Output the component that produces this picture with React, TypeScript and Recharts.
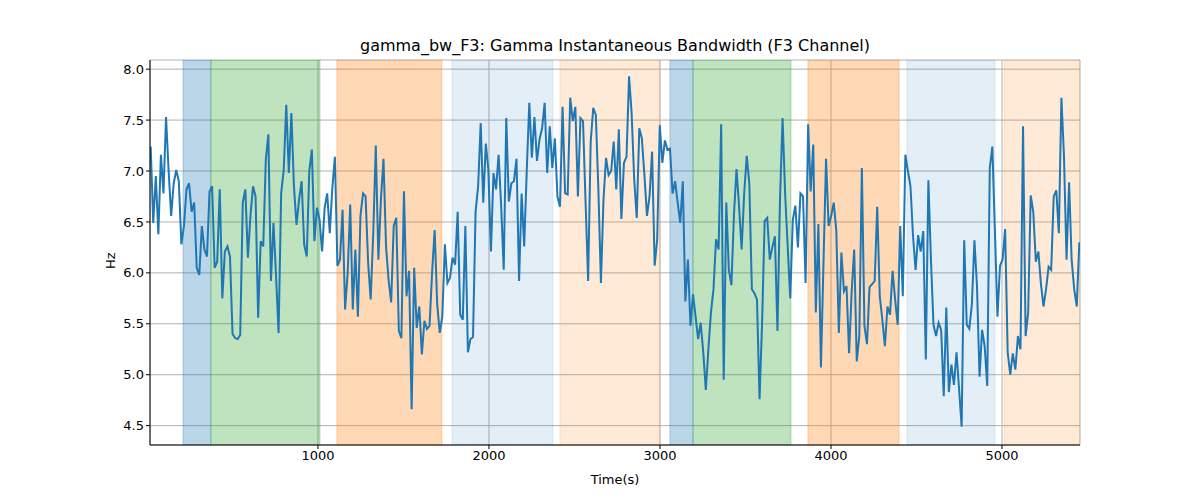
import {
  CartesianGrid,
  Line,
  LineChart,
  ReferenceArea,
  XAxis,
  YAxis,
} from "recharts";

const T_START = 22;
const T_END = 5452;

const bandwidth: number[] = [
  7.24, 6.49, 6.95, 6.38, 7.16, 6.78, 7.53, 7.01, 6.56, 6.88, 7.01, 6.9, 6.28, 6.46, 6.82, 6.88, 6.6, 6.69,
  6.05, 5.98, 6.46, 6.23, 6.16, 6.8, 6.85, 6.05, 6.11, 6.82, 5.75, 6.21, 6.26, 6.16, 5.4, 5.36, 5.35, 5.39,
  6.69, 6.82, 6.15, 6.56, 6.85, 6.75, 5.56, 6.31, 6.26, 7.11, 7.36, 5.92, 6.49, 5.97, 5.41, 6.78, 7.01, 7.65,
  6.98, 7.57, 6.85, 6.47, 6.72, 6.9, 6.28, 6.16, 7.0,
  7.21, 6.31, 6.64, 6.52, 6.21, 6.64, 6.78, 6.39, 6.83, 7.14, 6.07, 6.13, 6.62, 5.64, 6.0, 6.67, 5.64, 6.23,
  5.57, 6.56, 6.78, 6.75, 6.1, 5.74, 6.39, 7.25, 6.13, 6.72, 7.12, 6.26, 5.93, 5.71, 6.46, 6.54, 5.43, 5.36,
  6.8, 5.77, 6.02, 4.66, 6.05, 5.46, 5.67, 5.2, 5.53, 5.45, 5.48, 6.0, 6.42, 5.69, 5.41, 5.57, 6.28, 5.9,
  5.95, 6.15, 6.08, 6.6, 5.59,
  5.54, 6.46, 5.22, 5.35, 5.37, 6.6, 6.85, 7.47, 6.69, 7.27, 7.01, 6.21, 6.98, 6.82, 7.16, 6.66, 6.03, 7.52,
  6.7, 6.88, 6.9, 7.12, 5.92, 6.78, 6.26, 7.0, 7.67, 7.13, 7.53, 7.1, 7.31, 7.42, 7.67, 6.98, 7.44, 7.03,
  7.32, 6.75, 6.65, 7.63, 6.78, 6.77, 7.72, 7.49, 7.63, 6.75, 7.52, 7.49, 6.69, 5.92, 7.29, 7.62, 7.55, 6.82,
  5.9, 6.72, 7.13, 6.96, 7.0, 7.29,
  6.82, 7.41, 6.53, 7.08, 7.14, 7.93, 7.57, 6.92, 6.54, 7.42, 7.32, 6.96, 6.56, 6.75, 7.19, 6.07, 6.33, 7.45,
  7.08, 7.3, 7.21, 7.22, 6.78, 6.9, 6.69, 6.49, 6.9, 5.72, 6.13, 5.48, 5.79, 5.57, 5.35, 5.51, 5.22, 4.85,
  5.25, 5.61, 5.84, 6.33, 6.23, 7.46, 4.95, 6.69, 6.03, 5.88, 6.57, 7.02, 6.65, 6.23, 6.78, 7.15, 6.88, 5.84,
  5.8, 5.74, 4.76, 5.51, 6.51, 6.54, 6.13,
  6.25, 6.36, 5.43, 6.72, 7.52, 6.78, 6.26, 5.75, 6.52, 6.66, 6.25, 6.78, 6.75, 5.9, 7.46, 6.8, 7.26, 5.61,
  6.48, 5.07, 6.1, 7.12, 6.46, 6.56, 6.69, 6.42, 5.41, 6.2, 5.82, 5.87, 5.21, 5.81, 6.23, 5.13, 5.38, 7.03,
  5.48, 5.3, 5.86, 5.89, 5.92, 6.65, 5.77, 5.54, 5.28, 5.67, 5.59, 6.02, 5.74, 5.49, 6.46, 5.77, 7.16, 7.0,
  6.85, 6.36, 6.03, 6.37, 6.21, 6.41,
  5.15, 6.91, 6.13, 5.49, 5.38, 5.51, 5.44, 4.79, 5.66, 4.83, 5.1, 4.9, 5.22, 4.86, 4.49, 6.32, 5.49, 5.45,
  5.69, 6.32, 5.87, 4.98, 5.44, 5.28, 4.89, 7.03, 7.24, 6.42, 5.57, 6.07, 6.13, 6.43, 5.22, 5.0, 5.21, 5.05,
  5.38, 5.25, 7.44, 5.38, 5.61, 6.76, 6.6, 6.11, 6.21, 5.89, 5.67, 5.84, 6.06, 6.03, 6.75, 6.81, 6.39, 7.72,
  7.15, 6.13, 6.89, 6.13, 5.84, 5.67, 6.3,
];

const spanStarts = [211, 374, 1111, 1784, 2415, 3058, 3193, 3865, 4444, 5012];
const spanEnds = [374, 1012, 1725, 2374, 3000, 3193, 3766, 4398, 4959, 5456];
const spanColors = ["#1f77b4", "#2ca02c", "#ff7f0e", "#1f77b4", "#ff7f0e", "#1f77b4", "#2ca02c", "#ff7f0e", "#1f77b4", "#ff7f0e"];
const spanOpacity = [0.3, 0.3, 0.3, 0.12, 0.16, 0.3, 0.3, 0.3, 0.12, 0.16];

const xTicks = [1000, 2000, 3000, 4000, 5000];
const yTicks = [4.5, 5.0, 5.5, 6.0, 6.5, 7.0, 7.5, 8.0];

const step = (T_END - T_START) / (bandwidth.length - 1);
const data = bandwidth.map((v, i) => ({ t: T_START + i * step, hz: v }));

const font = "DejaVu Sans, sans-serif";
const tickStyle = { fontSize: 13, fill: "#000", fontFamily: font };

export default function App() {
  return (
    <div style={{ position: "absolute", left: 0, top: 0, width: 1200, height: 500, background: "#fff" }}>
      <div
        style={{
          position: "absolute",
          top: 36,
          left: 150,
          width: 930,
          textAlign: "center",
          fontFamily: font,
          fontSize: 16,
        }}
      >
        gamma_bw_F3: Gamma Instantaneous Bandwidth (F3 Channel)
      </div>
      <LineChart width={1200} height={500} data={data} margin={{ top: 60, right: 120, bottom: 25, left: 0 }}>
        {spanStarts.map((s, i) => (
          <ReferenceArea
            key={i}
            x1={s}
            x2={spanEnds[i]}
            fill={spanColors[i]}
            fillOpacity={spanOpacity[i]}
            stroke={spanColors[i]}
            strokeOpacity={spanOpacity[i]}
            ifOverflow="hidden"
          />
        ))}
        <CartesianGrid stroke="#b0b0b0" strokeWidth={1} />
        <XAxis
          dataKey="t"
          type="number"
          domain={[18, 5456]}
          ticks={xTicks}
          allowDataOverflow
          tick={tickStyle}
          tickSize={4}
          stroke="#000"
          label={{ value: "Time(s)", position: "bottom", offset: 0, style: { fontSize: 13, fontFamily: font, fill: "#000" } }}
        />
        <XAxis xAxisId="top" orientation="top" type="number" domain={[18, 5456]} tick={false} tickLine={false} stroke="#000" height={0} />
        <YAxis
          type="number"
          domain={[4.31, 8.09]}
          ticks={yTicks}
          allowDataOverflow
          width={150}
          tick={tickStyle}
          tickSize={4}
          tickFormatter={(v: number) => v.toFixed(1)}
          stroke="#000"
          label={{ value: "Hz", angle: -90, position: "insideRight", offset: 40, style: { fontSize: 13, fontFamily: font, fill: "#000" } }}
        />
        <YAxis yAxisId="right" orientation="right" tick={false} tickLine={false} stroke="#000" width={0} />
        <Line
          dataKey="hz"
          stroke="#1f77b4"
          strokeWidth={2}
          dot={false}
          type="linear"
          isAnimationActive={false}
        />
      </LineChart>
    </div>
  );
}
